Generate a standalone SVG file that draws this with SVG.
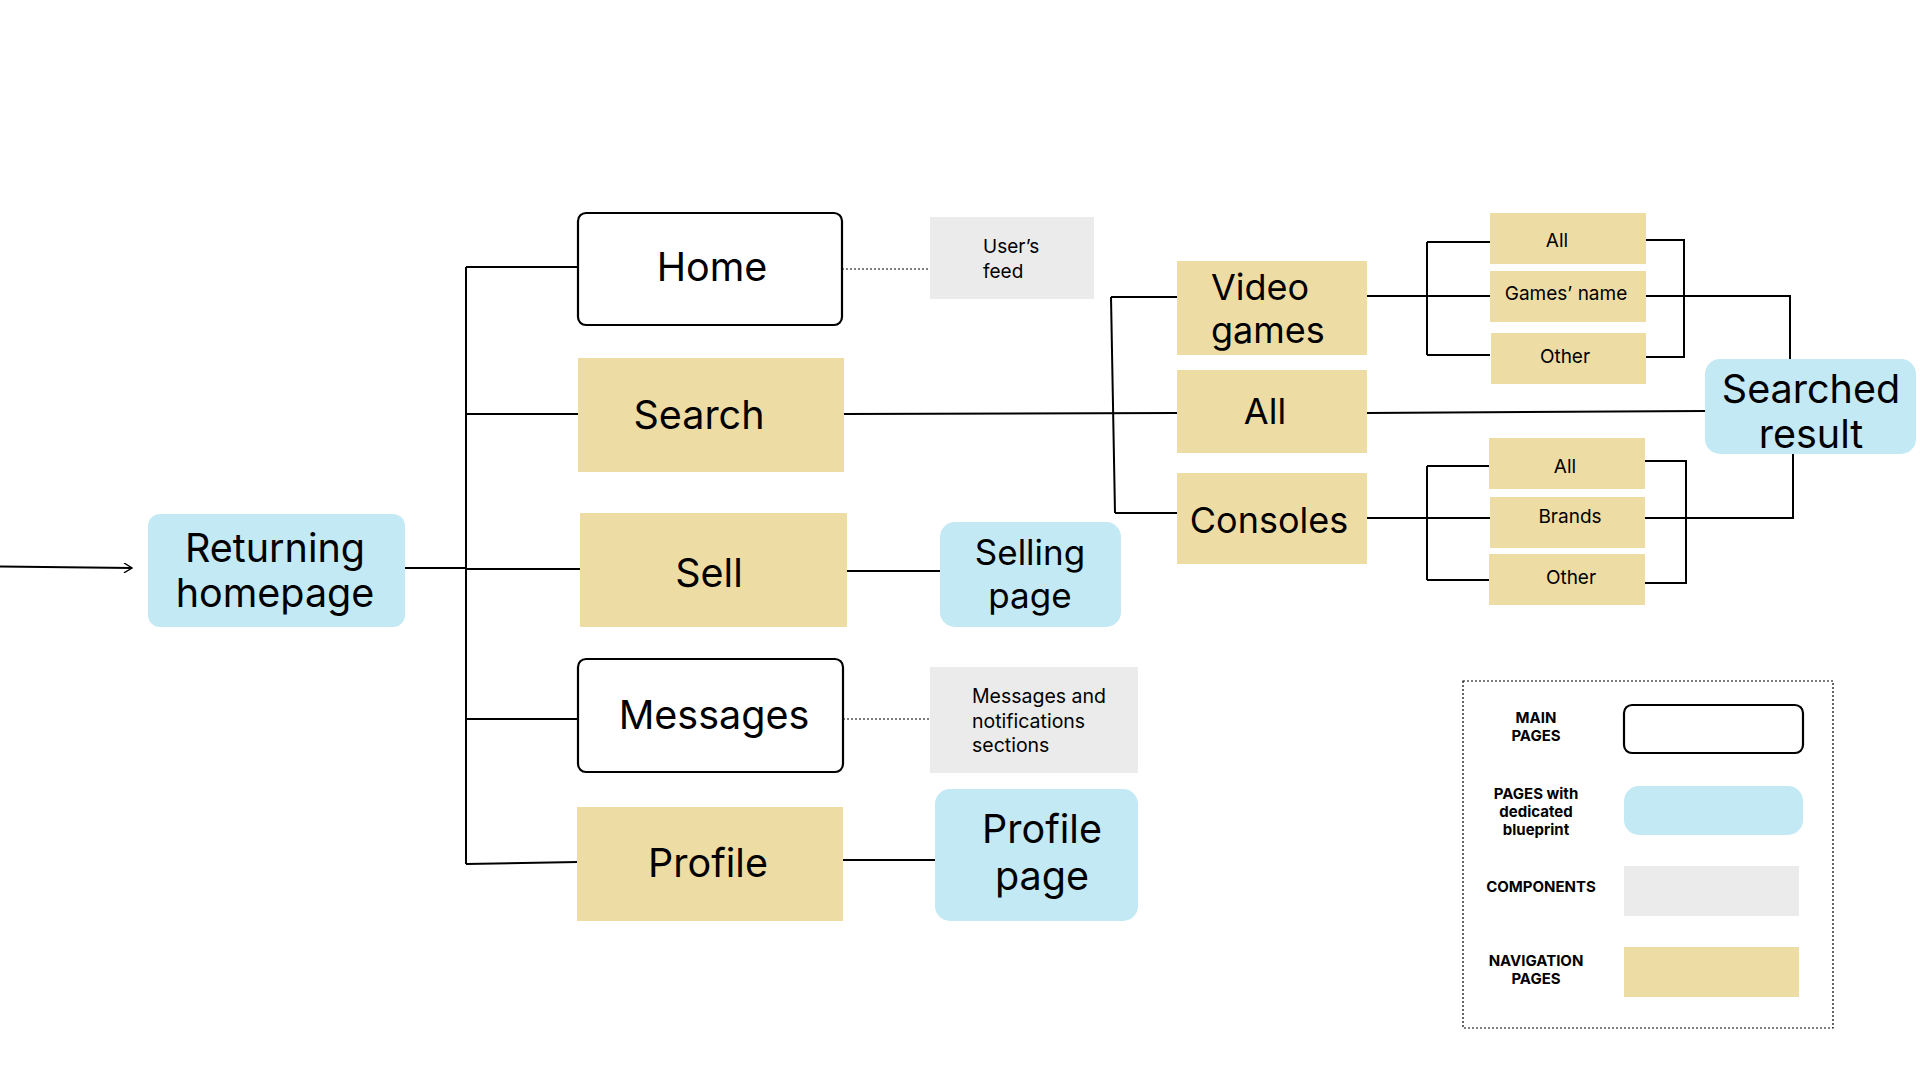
<svg xmlns="http://www.w3.org/2000/svg" width="1920" height="1080" viewBox="0 0 1920 1080">
<defs>
<style>
.t{font-family:Inter,"Liberation Sans",sans-serif;fill:#000}
.big{font-size:39.5px}
.col{font-size:36px}
.sp{font-size:35px}
.mid{font-size:19px}
.cmp{font-size:19.5px}
.leg{font-size:15px;font-weight:700}
.main{fill:#fff;stroke:#000;stroke-width:2.2}
.nav{fill:#EEDCA5}
.blue{fill:#C3E9F4}
.comp{fill:#EBEBEB}
.ln{fill:none;stroke:#000;stroke-width:2}
.dot{fill:none;stroke:#000;stroke-width:1.2;stroke-dasharray:2 2}
</style>
<marker id="arr" viewBox="0 0 10 10" refX="9" refY="5" markerWidth="10" markerHeight="10" markerUnits="userSpaceOnUse" orient="auto">
<path d="M1 0 L9 5 L1 10" fill="none" stroke="#000" stroke-width="1.3"/>
</marker>
</defs>
<rect width="1920" height="1080" fill="#fff"/>
<g id="connectors">
<path class="ln" d="M0 566.5 L132 568" stroke-width="1.5" marker-end="url(#arr)"/>
<path class="ln" d="M405 568 H466"/>
<path class="ln" d="M466 267 V864"/>
<path class="ln" d="M466 267 H578"/>
<path class="ln" d="M466 414 H578"/>
<path class="ln" d="M466 569 H580"/>
<path class="ln" d="M466 719 H578"/>
<path class="ln" d="M466 864 L578 862"/>
<path class="dot" d="M842 269 H930"/>
<path class="dot" d="M843 719 H930"/>
<path class="ln" d="M847 571 H940"/>
<path class="ln" d="M843 860 H935"/>
<path class="ln" d="M844 414 L1177 413"/>
<path class="ln" d="M1111 297 L1115 513"/>
<path class="ln" d="M1111 297 H1177"/>
<path class="ln" d="M1115 513 H1177"/>
<path class="ln" d="M1367 296 H1490"/>
<path class="ln" d="M1646 296 H1790 V359"/>
<path class="ln" d="M1427 242 V355"/>
<path class="ln" d="M1427 242 H1490"/>
<path class="ln" d="M1427 355 H1490"/>
<path class="ln" d="M1646 240 H1684 V357 H1646"/>
<path class="ln" d="M1367 413 L1705 411"/>
<path class="ln" d="M1367 518 H1490"/>
<path class="ln" d="M1645 518 H1793 V454"/>
<path class="ln" d="M1427 466 V580"/>
<path class="ln" d="M1427 466 H1489"/>
<path class="ln" d="M1427 580 H1489"/>
<path class="ln" d="M1645 461 H1686 V583 H1645"/>
</g>
<g id="returning-homepage">
<rect class="blue" x="148" y="514" width="257" height="113" rx="12"/>
<text class="t big" x="275" y="562" text-anchor="middle">Returning</text>
<text class="t big" x="275" y="607" text-anchor="middle">homepage</text>
</g>
<g id="home">
<rect class="main" x="578" y="213" width="264" height="112" rx="8"/>
<text class="t big" x="712" y="281" text-anchor="middle">Home</text>
</g>
<g id="search">
<rect class="nav" x="578" y="358" width="266" height="114"/>
<text class="t big" x="699" y="429" text-anchor="middle">Search</text>
</g>
<g id="sell">
<rect class="nav" x="580" y="513" width="267" height="114"/>
<text class="t big" x="709" y="587" text-anchor="middle">Sell</text>
</g>
<g id="messages">
<rect class="main" x="578" y="659" width="265" height="113" rx="8"/>
<text class="t big" x="714" y="729" text-anchor="middle">Messages</text>
</g>
<g id="profile">
<rect class="nav" x="577" y="807" width="266" height="114"/>
<text class="t big" x="708" y="877" text-anchor="middle">Profile</text>
</g>
<g id="users-feed">
<rect class="comp" x="930" y="217" width="164" height="82"/>
<text class="t mid" x="983" y="253">User’s</text>
<text class="t mid" x="983" y="278">feed</text>
</g>
<g id="messages-notifications">
<rect class="comp" x="930" y="667" width="208" height="106"/>
<text class="t cmp" x="972" y="703">Messages and</text>
<text class="t cmp" x="972" y="728">notifications</text>
<text class="t cmp" x="972" y="752">sections</text>
</g>
<g id="selling-page">
<rect class="blue" x="940" y="522" width="181" height="105" rx="15"/>
<text class="t sp" x="1030" y="565" text-anchor="middle">Selling</text>
<text class="t sp" x="1030" y="608" text-anchor="middle">page</text>
</g>
<g id="profile-page">
<rect class="blue" x="935" y="789" width="203" height="132" rx="15"/>
<text class="t big" x="1042" y="843" text-anchor="middle">Profile</text>
<text class="t big" x="1042" y="890" text-anchor="middle">page</text>
</g>
<g id="video-games">
<rect class="nav" x="1177" y="261" width="190" height="94"/>
<text class="t col" x="1211" y="300">Video</text>
<text class="t col" x="1211" y="343">games</text>
</g>
<g id="all">
<rect class="nav" x="1177" y="370" width="190" height="83"/>
<text class="t col" x="1265" y="424" text-anchor="middle">All</text>
</g>
<g id="consoles">
<rect class="nav" x="1177" y="473" width="190" height="91"/>
<text class="t col" x="1269" y="533" text-anchor="middle">Consoles</text>
</g>
<g id="vg-all">
<rect class="nav" x="1490" y="213" width="156" height="51"/>
<text class="t mid" x="1557" y="247" text-anchor="middle">All</text>
</g>
<g id="vg-games-name">
<rect class="nav" x="1490" y="271" width="156" height="51"/>
<text class="t mid" x="1566" y="300" text-anchor="middle">Games’ name</text>
</g>
<g id="vg-other">
<rect class="nav" x="1491" y="333" width="155" height="51"/>
<text class="t mid" x="1565" y="363" text-anchor="middle">Other</text>
</g>
<g id="c-all">
<rect class="nav" x="1489" y="438" width="156" height="51"/>
<text class="t mid" x="1565" y="473" text-anchor="middle">All</text>
</g>
<g id="c-brands">
<rect class="nav" x="1490" y="497" width="155" height="51"/>
<text class="t mid" x="1570" y="523" text-anchor="middle">Brands</text>
</g>
<g id="c-other">
<rect class="nav" x="1489" y="554" width="156" height="51"/>
<text class="t mid" x="1571" y="584" text-anchor="middle">Other</text>
</g>
<g id="searched-result">
<rect class="blue" x="1705" y="359" width="211" height="95" rx="15"/>
<text class="t big" x="1811" y="403" text-anchor="middle">Searched</text>
<text class="t big" x="1811" y="448" text-anchor="middle">result</text>
</g>
<g id="legend">
<rect x="1463" y="681" width="370" height="347" fill="none" stroke="#000" stroke-width="1.2" stroke-dasharray="2 2"/>
<rect class="main" x="1624" y="705" width="179" height="48" rx="8"/>
<rect class="blue" x="1624" y="786" width="179" height="49" rx="15"/>
<rect class="comp" x="1624" y="866" width="175" height="50"/>
<rect class="nav" x="1624" y="947" width="175" height="50"/>
<text class="t leg" x="1536" y="723" text-anchor="middle">MAIN</text>
<text class="t leg" x="1536" y="741" text-anchor="middle">PAGES</text>
<text class="t leg" x="1536" y="799" text-anchor="middle">PAGES with</text>
<text class="t leg" x="1536" y="817" text-anchor="middle">dedicated</text>
<text class="t leg" x="1536" y="835" text-anchor="middle">blueprint</text>
<text class="t leg" x="1541" y="892" text-anchor="middle">COMPONENTS</text>
<text class="t leg" x="1536" y="966" text-anchor="middle">NAVIGATION</text>
<text class="t leg" x="1536" y="984" text-anchor="middle">PAGES</text>
</g>
</svg>
